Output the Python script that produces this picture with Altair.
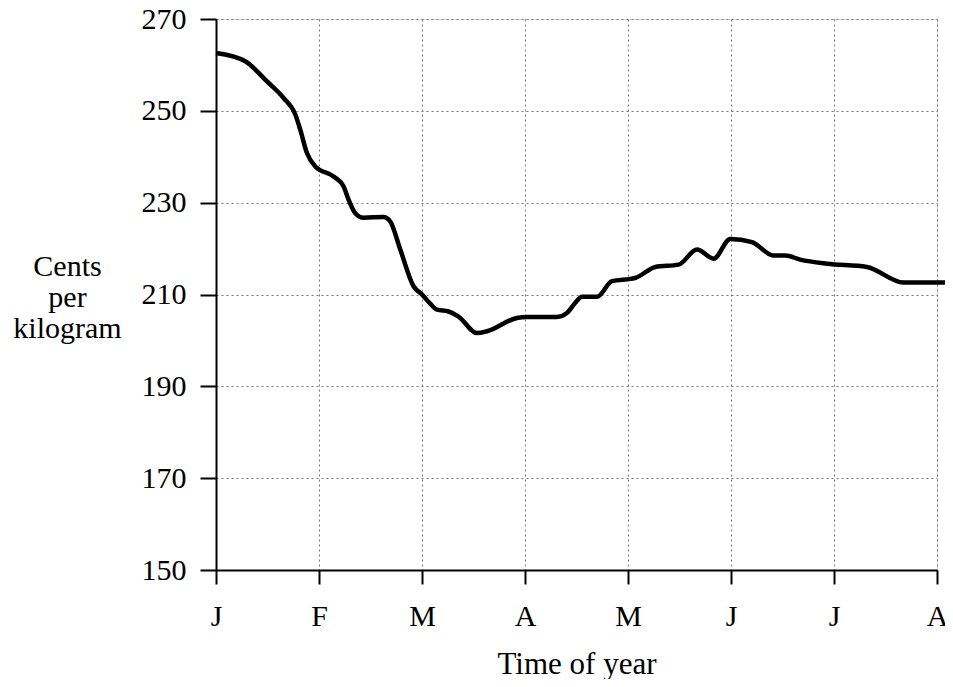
import altair as alt
import pandas as pd

month_labels = ["J", "F", "M", "A", "M", "J", "J", "A"]
y_ticks = [150, 170, 190, 210, 230, 250, 270]

months = [0, 0.284, 0.495, 0.656, 0.77, 0.818, 0.883, 0.964, 1.142, 1.239, 1.288,
          1.352, 1.433, 1.627, 1.692, 1.789, 1.918, 2.0, 2.08, 2.146, 2.258, 2.355,
          2.534, 2.631, 2.922, 3.019, 3.31, 3.408, 3.488, 3.553, 3.699, 3.845, 4.022,
          4.07, 4.265, 4.491, 4.67, 4.831, 4.993, 5.204, 5.413, 5.527, 5.672, 5.931,
          6.319, 6.676, 7.097]
cents = [262.6, 260.8, 256.4, 252.8, 249.2, 245.9, 240.8, 237.9, 235.7, 233.5, 230.6,
         227.7, 226.7, 226.9, 225.9, 219.8, 211.8, 210.0, 208.0, 206.7, 206.3, 205.2,
         201.6, 202.0, 204.9, 205.1, 205.1, 206.0, 208.2, 209.5, 209.5, 212.9, 213.4,
         213.6, 216.0, 216.5, 219.8, 217.8, 222.1, 221.4, 218.5, 218.5, 217.6, 216.7,
         216.0, 212.6, 212.6]

df = pd.DataFrame({"month": months, "cents": cents})

label_arr = "[" + ",".join("'%s'" % m for m in month_labels) + "]"

FONT = "Liberation Serif"

chart = alt.Chart(df).mark_line(
    color="black", strokeWidth=4.5, interpolate="monotone", clip=False
).encode(
    x=alt.X(
        "month:Q",
        scale=alt.Scale(domain=[0, len(month_labels) - 1], nice=False, zero=False),
        axis=alt.Axis(
            values=list(range(len(month_labels))),
            labelExpr=label_arr + "[datum.value]",
            title="Time of year",
            titleFont=FONT, titleFontSize=31, titleFontWeight="normal",
            titleColor="black", titleBaseline="alphabetic", titleY=103,
            labelFont=FONT, labelFontSize=30, labelColor="black",
            labelPadding=17, tickSize=14, tickColor="black", tickWidth=2,
            domainColor="black", domainWidth=2,
            grid=True, gridColor="#777777", gridDash=[2, 3], gridWidth=1,
            labelFlush=False,
        ),
    ),
    y=alt.Y(
        "cents:Q",
        scale=alt.Scale(domain=[150, 270], nice=False, zero=False),
        axis=alt.Axis(
            values=y_ticks,
            title=["Cents", "per", "kilogram"],
            titleAngle=0, titleAlign="center", titleBaseline="middle",
            titleX=-149, titleY=247, titleLineHeight=31,
            titleFont=FONT, titleFontSize=30, titleFontWeight="normal",
            titleColor="black",
            labelFont=FONT, labelFontSize=30, labelColor="black",
            labelPadding=14, tickSize=16, tickColor="black", tickWidth=2,
            domainColor="black", domainWidth=2,
            grid=True, gridColor="#777777", gridDash=[2, 3], gridWidth=1,
            labelFlush=False,
        ),
    ),
).properties(
    width=721, height=551,
    autosize=alt.AutoSizeParams(type="none"),
    padding={"left": 208, "top": 11, "right": 8, "bottom": 109},
).configure_view(stroke=None).configure(background="white")

chart.save("out.html", embed_options={"renderer": "svg", "actions": False})
